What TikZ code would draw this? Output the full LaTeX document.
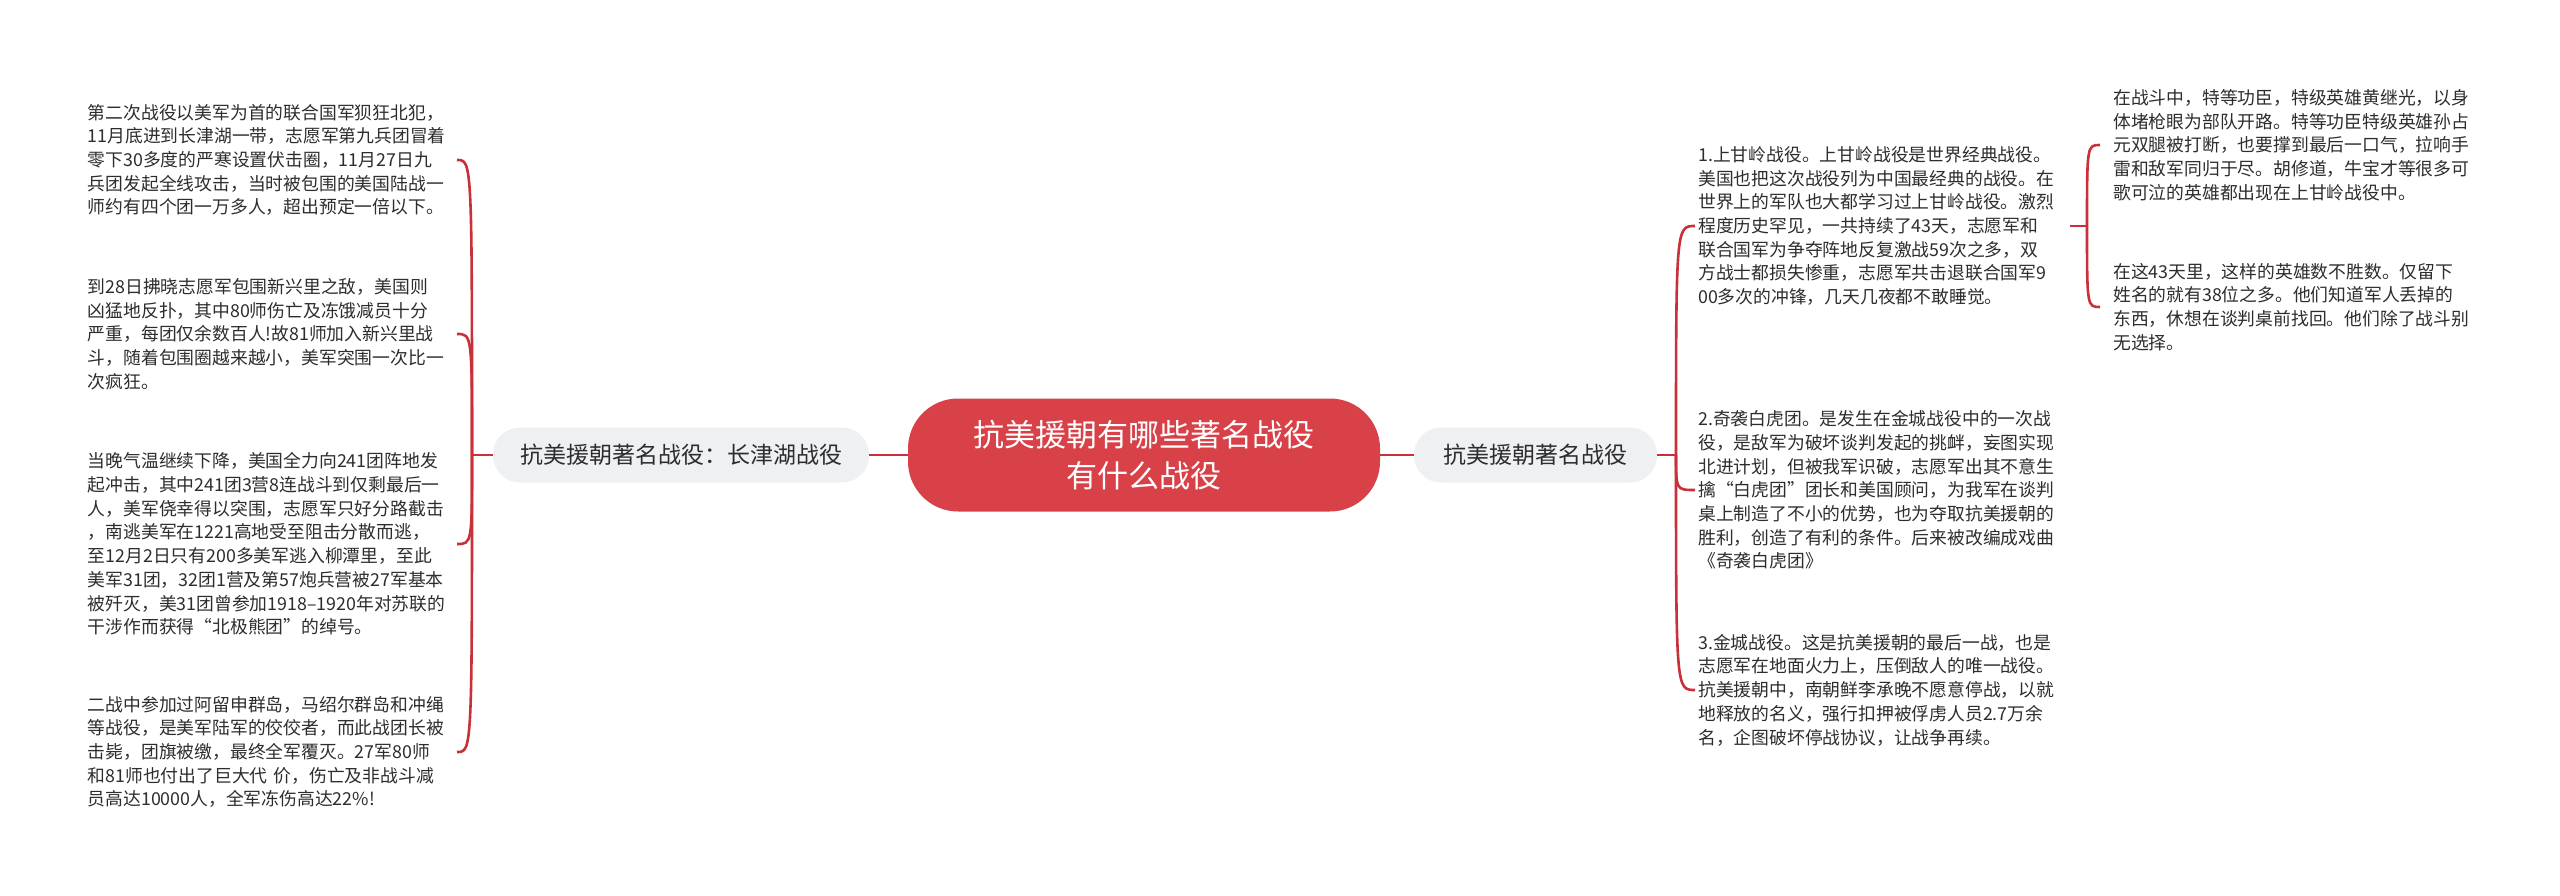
\documentclass[tikz,border=0pt]{standalone}
\usepackage{fontspec}
\setmainfont{Noto Sans CJK SC}
\definecolor{mainred}{RGB}{217,65,72}
\definecolor{linered}{RGB}{200,48,58}
\definecolor{subfill}{RGB}{238,240,244}
\definecolor{txt}{RGB}{45,45,45}
\begin{document}
\begin{tikzpicture}[x=1pt,y=-1pt,
  conn/.style={draw=linered,line width=2.6pt},
  rootbox/.style={fill=mainred,rounded corners=50pt,minimum width=472pt,minimum height=113pt,text=white,align=center,font=\fontsize{31}{41}\selectfont,inner sep=0pt},
  subbox/.style={fill=subfill,rounded corners=27pt,minimum height=55pt,text=txt,font=\fontsize{23}{28}\selectfont,inner sep=0pt},
  leafL/.style={anchor=east,text width=369pt,inner sep=0pt,align=left,text=txt,font=\fontsize{17.8}{23.7}\selectfont},
  leafR/.style={anchor=west,text width=369pt,inner xsep=3pt,inner ysep=0pt,align=left,text=txt,font=\fontsize{17.8}{23.7}\selectfont},
  leafRR/.style={anchor=west,text width=372pt,inner xsep=13pt,inner ysep=0pt,align=left,text=txt,font=\fontsize{17.8}{23.7}\selectfont}
]
\fill[white] (0,0) rectangle (2560,896);
\useasboundingbox (0,0) rectangle (2560,896);

% root and first level
\node[rootbox] (root) at (1144,455) {抗美援朝有哪些著名战役\\有什么战役};
\node[subbox,minimum width=376pt] (left) at (681,455) {抗美援朝著名战役：长津湖战役};
\node[subbox,minimum width=243pt] (right) at (1535.5,455) {抗美援朝著名战役};

% left leaves
\node[leafL] (L1) at (457,160) {第二次战役以美军为首的联合国军狈狂北犯，\\11月底进到长津湖一带，志愿军第九兵团冒着\\零下30多度的严寒设置伏击圈，11月27日九\\兵团发起全线攻击，当时被包围的美国陆战一\\师约有四个团一万多人，超出预定一倍以下。};
\node[leafL] (L2) at (457,334) {到28日拂晓志愿军包围新兴里之敌，美国则\\凶猛地反扑，其中80师伤亡及冻饿减员十分\\严重，每团仅余数百人!故81师加入新兴里战\\斗，随着包围圈越来越小，美军突围一次比一\\次疯狂。};
\node[leafL] (L3) at (457,544) {当晚气温继续下降，美国全力向241团阵地发\\起冲击，其中241团3营8连战斗到仅剩最后一\\人，美军侥幸得以突围，志愿军只好分路截击\\，南逃美军在1221高地受至阻击分散而逃，\\至12月2日只有200多美军逃入柳潭里，至此\\美军31团，32团1营及第57炮兵营被27军基本\\被歼灭，美31团曾参加1918–1920年对苏联的\\干涉作而获得“北极熊团”的绰号。};
\node[leafL] (L4) at (457,752) {二战中参加过阿留申群岛，马绍尔群岛和冲绳\\等战役，是美军陆军的佼佼者，而此战团长被\\击毙，团旗被缴，最终全军覆灭。27军80师\\和81师也付出了巨大代 价，伤亡及非战斗减\\员高达10000人，全军冻伤高达22\%!};

% right leaves
\node[leafR] (R1) at (1695,226) {1.上甘岭战役。上甘岭战役是世界经典战役。\\美国也把这次战役列为中国最经典的战役。在\\世界上的军队也大都学习过上甘岭战役。激烈\\程度历史罕见，一共持续了43天，志愿军和\\联合国军为争夺阵地反复激战59次之多，双\\方战士都损失惨重，志愿军共击退联合国军9\\00多次的冲锋，几天几夜都不敢睡觉。};
\node[leafR] (R2) at (1695,490) {2.奇袭白虎团。是发生在金城战役中的一次战\\役，是敌军为破坏谈判发起的挑衅，妄图实现\\北进计划，但被我军识破，志愿军出其不意生\\擒“白虎团”团长和美国顾问，为我军在谈判\\桌上制造了不小的优势，也为夺取抗美援朝的\\胜利，创造了有利的条件。后来被改编成戏曲\\《奇袭白虎团》};
\node[leafR] (R3) at (1695,690) {3.金城战役。这是抗美援朝的最后一战，也是\\志愿军在地面火力上，压倒敌人的唯一战役。\\抗美援朝中，南朝鲜李承晚不愿意停战，以就\\地释放的名义，强行扣押被俘虏人员2.7万余\\名，企图破坏停战协议，让战争再续。};

% far right leaves
\node[leafRR] (RR1) at (2100,145) {在战斗中，特等功臣，特级英雄黄继光，以身\\体堵枪眼为部队开路。特等功臣特级英雄孙占\\元双腿被打断，也要撑到最后一口气，拉响手\\雷和敌军同归于尽。胡修道，牛宝才等很多可\\歌可泣的英雄都出现在上甘岭战役中。};
\node[leafRR] (RR2) at (2100,307) {在这43天里，这样的英雄数不胜数。仅留下\\姓名的就有38位之多。他们知道军人丢掉的\\东西，休想在谈判桌前找回。他们除了战斗别\\无选择。};

% junctions
\coordinate (JL) at (472,455);
\coordinate (JR) at (1676,455);
\coordinate (JRR) at (2087,226);

% connectors
\draw[conn] (root.west) -- (left.east);
\draw[conn] (root.east) -- (right.west);
\draw[conn] (left.west) -- (JL);
\draw[conn] (right.east) -- (JR);
\draw[conn] (R1.east) -- (JRR);
\foreach \n in {L1,L2,L3,L4}{
  \draw[conn] (JL) .. controls (JL |- \n.east) and (JL |- \n.east) .. (\n.east);
}
\foreach \n in {R1,R2,R3}{
  \draw[conn] (JR) .. controls (JR |- \n.west) and (JR |- \n.west) .. (\n.west);
}
\foreach \n in {RR1,RR2}{
  \draw[conn] (JRR) .. controls (JRR |- \n.west) and (JRR |- \n.west) .. (\n.west);
}
\end{tikzpicture}
\end{document}
